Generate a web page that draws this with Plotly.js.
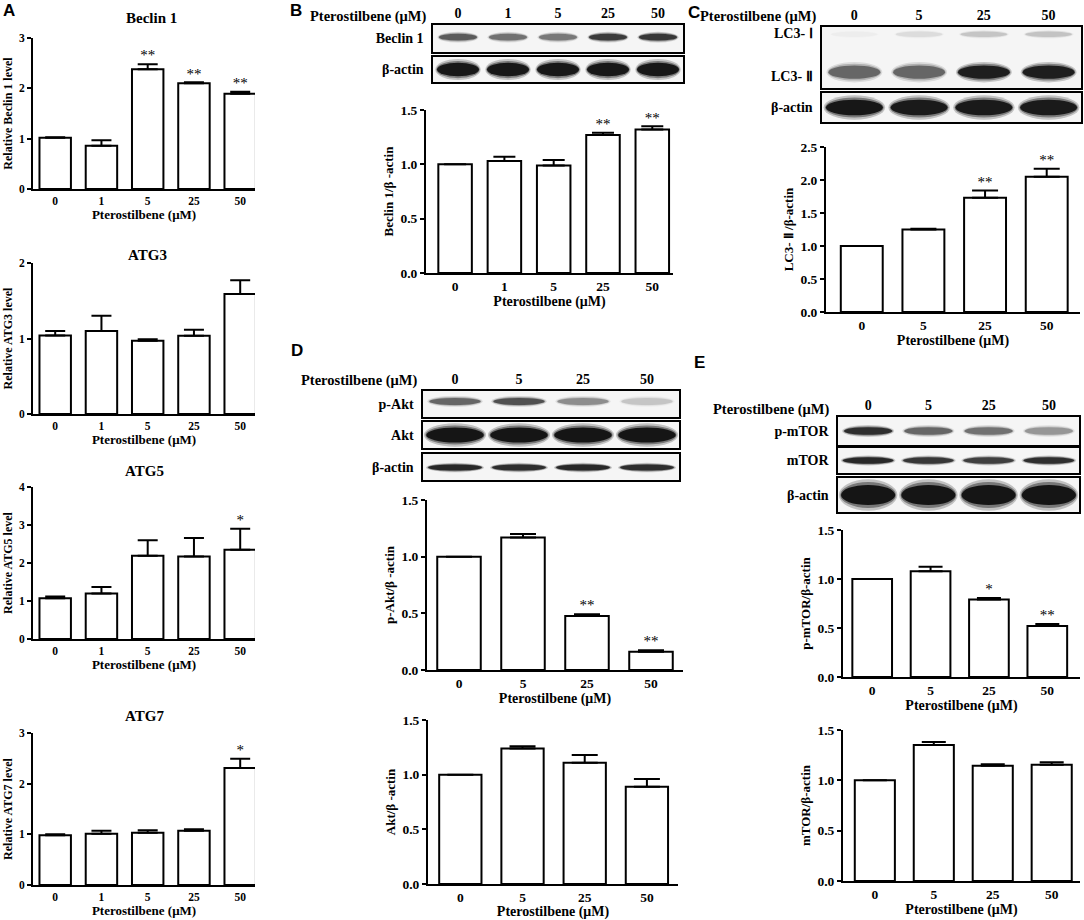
<!DOCTYPE html>
<html>
<head>
<meta charset="utf-8">
<script src="https://cdn.plot.ly/plotly-3.0.1.min.js"></script>
<style>
  body { margin: 0; background: #fff; }
  #chart { width: 1084px; height: 920px; }
</style>
</head>
<body>
<div id="chart"></div>
<script>
// dose labels
const doses5 = ["0", "1", "5", "25", "50"];
const doses4 = ["0", "5", "25", "50"];

// panel A, qPCR
const beclinA = [1.02, 0.86, 2.38, 2.1, 1.89];
const beclinAErr = [0.01, 0.11, 0.1, 0.02, 0.04];
const beclinAStars = ["", "", "**", "**", "**"];

const atg3 = [1.04, 1.1, 0.97, 1.035, 1.59];
const atg3Err = [0.06, 0.2, 0.02, 0.08, 0.18];

const atg5 = [1.07, 1.2, 2.19, 2.17, 2.35];
const atg5Err = [0.05, 0.17, 0.41, 0.49, 0.55];
const atg5Stars = ["", "", "", "", "*"];

const atg7 = [0.98, 1.01, 1.03, 1.07, 2.31];
const atg7Err = [0.02, 0.06, 0.05, 0.03, 0.18];
const atg7Stars = ["", "", "", "", "*"];

// panel B
const beclinB = [1.0, 1.03, 0.99, 1.27, 1.32];
const beclinBErr = [0, 0.04, 0.05, 0.02, 0.03];
const beclinBStars = ["", "", "", "**", "**"];

// panel C
const lc3 = [1.0, 1.25, 1.73, 2.05];
const lc3Err = [0, 0.01, 0.11, 0.12];
const lc3Stars = ["", "", "**", "**"];

// panel D
const pAkt = [1.0, 1.17, 0.477, 0.16];
const pAktErr = [0, 0.03, 0.015, 0.015];
const pAktStars = ["", "", "**", "**"];
const akt = [1.0, 1.24, 1.11, 0.89];
const aktErr = [0, 0.02, 0.07, 0.07];

// panel E
const pMtor = [1.0, 1.08, 0.79, 0.52];
const pMtorErr = [0, 0.045, 0.015, 0.02];
const pMtorStars = ["", "", "*", "**"];
const mtor = [1.0, 1.35, 1.145, 1.155];
const mtorErr = [0, 0.03, 0.015, 0.025];

// blot band darkness per lane
const blotBeclin = [0.55, 0.45, 0.42, 0.72, 0.75];
const blotActinB = [0.97, 0.97, 0.97, 0.97, 0.97];
const blotLc3I = [0.02, 0.07, 0.14, 0.15];
const blotLc3II = [0.5, 0.5, 0.92, 0.92];
const blotActinC = [0.98, 0.96, 0.96, 0.96];
const blotPAkt = [0.5, 0.6, 0.33, 0.14];
const blotAkt = [1, 1, 1, 1];
const blotActinD = [0.85, 0.8, 0.85, 0.8];
const blotPMtor = [0.8, 0.5, 0.45, 0.3];
const blotMtor = [0.85, 0.75, 0.7, 0.8];
const blotActinE = [1, 1, 1, 1];

const SERIF = "Liberation Serif, Times New Roman, serif";
const SANS = "Liberation Sans, Arial, sans-serif";
const W = 1084, H = 920;
const px = (v) => v / W;
const py = (v) => 1 - v / H;

const data = [];
const layout = {
  width: W,
  height: H,
  margin: { l: 0, r: 0, t: 0, b: 0 },
  showlegend: false,
  paper_bgcolor: "white",
  plot_bgcolor: "rgba(0,0,0,0)",
  colorway: ["#000000"],
  font: { family: SERIF, color: "black" },
  annotations: [],
  shapes: [],
};

let n = 0;
function axes(box) {
  n++;
  const s = n === 1 ? "" : String(n);
  layout["xaxis" + s] = { domain: [px(box[0]), px(box[1])], anchor: "y" + s, fixedrange: true };
  layout["yaxis" + s] = { domain: [py(box[3]), py(box[2])], anchor: "x" + s, fixedrange: true };
  return { x: "x" + s, y: "y" + s, xa: layout["xaxis" + s], ya: layout["yaxis" + s] };
}

function note(text, x, y, size, opts) {
  layout.annotations.push(Object.assign({
    text: text, x: px(x), y: py(y), xref: "paper", yref: "paper",
    showarrow: false, xanchor: "center", yanchor: "middle", borderpad: 0,
    font: { family: SERIF, size: size, weight: "bold", color: "black" },
  }, opts || {}));
}

// fs = [tick size, x title size, y title size]
function barPlot(box, cats, vals, errs, stars, yMax, dtick, xRange, yTitle, fs, capW, fmt) {
  const a = axes(box);
  Object.assign(a.xa, {
    type: "category", range: xRange, showline: true, linewidth: 2, linecolor: "black",
    ticks: "", showgrid: false, zeroline: false,
    tickfont: { size: fs[0], weight: "bold" },
    title: { text: "Pterostilbene (μM)", font: { size: fs[1], weight: "bold" }, standoff: 1 },
  });
  Object.assign(a.ya, {
    range: [0, yMax], dtick: dtick, tickformat: fmt, showline: true, linewidth: 2, linecolor: "black",
    ticks: "outside", ticklen: 4, tickwidth: 2, tickcolor: "black", showgrid: false, zeroline: false,
    tickfont: { size: fs[0], weight: "bold" },
    title: { text: yTitle, font: { size: fs[2], weight: "bold" }, standoff: 4 },
  });
  data.push({
    type: "bar", x: cats, y: vals, xaxis: a.x, yaxis: a.y, width: 0.68,
    marker: { color: "white", line: { color: "black", width: 2 } },
    error_y: {
      type: "data", array: errs, arrayminus: errs.map(() => 0), symmetric: false,
      color: "black", thickness: 2, width: capW,
    },
  });
  if (stars) {
    data.push({
      type: "scatter", mode: "text", x: cats, y: vals.map((v, i) => v + errs[i]),
      text: stars, textposition: "top center", cliponaxis: false,
      marker: { color: "black" },
      textfont: { family: SERIF, size: 15, color: "black" },
      xaxis: a.x, yaxis: a.y, hoverinfo: "skip",
    });
  }
}

function blotStrip(box, lanes, rowLabels, rowPos, bands, header) {
  const a = axes(box);
  const idx = lanes.map((_, i) => i);
  Object.assign(a.xa, {
    range: [-0.5, lanes.length - 0.5], showline: true, mirror: true, linewidth: 1.6, linecolor: "black",
    zeroline: false, showgrid: false, ticks: "", side: "top",
    showticklabels: !!header, tickvals: idx, ticktext: lanes,
    tickfont: { size: 14, weight: "bold" },
  });
  Object.assign(a.ya, {
    range: [0, 1], showline: true, mirror: true, linewidth: 1.6, linecolor: "black",
    zeroline: false, showgrid: false, ticks: "", tickvals: rowPos, ticktext: rowLabels,
    tickfont: { size: 14, weight: "bold" }, ticklabelstandoff: 5,
  });
  layout.shapes.push({
    type: "rect", xref: a.x + " domain", yref: a.y + " domain", x0: 0, x1: 1, y0: 0, y1: 1,
    fillcolor: "#f5f5f5", line: { width: 0 }, layer: "below",
  });
  // soft band: three stacked ellipses
  const layers = [[1.08, 1.4, 0.22], [1.03, 1.15, 0.4], [1.0, 0.9, 0.9]];
  bands.forEach((b) => {
    b.levels.forEach((lv, i) => {
      layers.forEach((L) => {
        layout.shapes.push({
          type: "circle", xref: a.x, yref: a.y,
          x0: i - b.hw * L[0], x1: i + b.hw * L[0],
          y0: b.yc - b.hh * L[1], y1: b.yc + b.hh * L[1],
          fillcolor: "rgba(10,10,10," + (lv * L[2]).toFixed(3) + ")", line: { width: 0 },
        });
      });
    });
  });
  data.push({ type: "scatter", x: [], y: [], xaxis: a.x, yaxis: a.y, hoverinfo: "skip" });
}

// ---- panel A ----
const fsA = [11.5, 13, 12];
barPlot([33, 255, 38, 189], doses5, beclinA, beclinAErr, beclinAStars, 3, 1, [-0.48, 4.32], "Relative Beclin 1 level", fsA, 10, "d");
barPlot([33, 255, 263, 414], doses5, atg3, atg3Err, null, 2, 1, [-0.48, 4.32], "Relative ATG3 level", fsA, 10, "d");
barPlot([33, 255, 487, 639], doses5, atg5, atg5Err, atg5Stars, 4, 1, [-0.48, 4.32], "Relative ATG5 level", fsA, 10, "d");
barPlot([33, 255, 733, 885], doses5, atg7, atg7Err, atg7Stars, 3, 1, [-0.48, 4.32], "Relative ATG7 level", fsA, 10, "d");
note("Beclin 1", 151, 18, 15);
note("ATG3", 147, 255, 15);
note("ATG5", 144, 471, 15);
note("ATG7", 144, 716, 15);

const fsB = [13.5, 14, 13];

// ---- panel B ----
blotStrip([433, 683, 25, 52], doses5, ["Beclin 1"], [0.5],
  [{ levels: blotBeclin, yc: 0.55, hh: 0.14, hw: 0.38 }], true);
blotStrip([433, 683, 57, 82], doses5, ["β-actin"], [0.5],
  [{ levels: blotActinB, yc: 0.5, hh: 0.3, hw: 0.42 }], false);
barPlot([426, 673, 110, 273], doses5, beclinB, beclinBErr, beclinBStars, 1.5, 0.5, [-0.59, 4.42], "Beclin 1/β -actin", fsB, 11, ".1f");

// ---- panel C ----
blotStrip([822, 1081, 27, 88], doses4, ["LC3- Ⅰ", "LC3- Ⅱ"], [0.9, 0.2],
  [{ levels: blotLc3I, yc: 0.88, hh: 0.05, hw: 0.36 }, { levels: blotLc3II, yc: 0.26, hh: 0.12, hw: 0.4 }], true);
blotStrip([822, 1081, 93, 122], doses4, ["β-actin"], [0.5],
  [{ levels: blotActinC, yc: 0.5, hh: 0.3, hw: 0.44 }], false);
barPlot([826, 1080, 147, 312], doses4, lc3, lc3Err, lc3Stars, 2.5, 0.5, [-0.58, 3.54], "LC3- Ⅱ /β-actin", fsB, 13, ".1f");

// ---- panel D ----
blotStrip([423, 679, 391, 417], doses4, ["p-Akt"], [0.5],
  [{ levels: blotPAkt, yc: 0.6, hh: 0.15, hw: 0.4 }], true);
blotStrip([423, 679, 422, 448], doses4, ["Akt"], [0.5],
  [{ levels: blotAkt, yc: 0.5, hh: 0.32, hw: 0.45 }], false);
blotStrip([423, 679, 454, 480], doses4, ["β-actin"], [0.5],
  [{ levels: blotActinD, yc: 0.48, hh: 0.13, hw: 0.42 }], false);
barPlot([427, 683, 500, 670], doses4, pAkt, pAktErr, pAktStars, 1.5, 0.5, [-0.5, 3.5], "p-Akt/β -actin", fsB, 13, ".1f");
barPlot([428, 678, 720, 884], doses4, akt, aktErr, null, 1.5, 0.5, [-0.52, 3.5], "Akt/β -actin", fsB, 13, ".1f");

// ---- panel E ----
blotStrip([838, 1079, 417, 445], doses4, ["p-mTOR"], [0.5],
  [{ levels: blotPMtor, yc: 0.5, hh: 0.15, hw: 0.4 }], true);
blotStrip([838, 1079, 448, 473], doses4, ["mTOR"], [0.5],
  [{ levels: blotMtor, yc: 0.5, hh: 0.14, hw: 0.42 }], false);
blotStrip([838, 1079, 478, 512], doses4, ["β-actin"], [0.5],
  [{ levels: blotActinE, yc: 0.5, hh: 0.33, hw: 0.45 }], false);
barPlot([843, 1080, 530, 677], doses4, pMtor, pMtorErr, pMtorStars, 1.5, 0.5, [-0.5, 3.56], "p-mTOR/β-actin", fsB, 12, ".1f");
barPlot([843, 1080, 730, 881], doses4, mtor, mtorErr, null, 1.5, 0.5, [-0.54, 3.48], "mTOR/β-actin", fsB, 12, ".1f");

// blot headers
note("Pterostilbene (μM)", 427, 17, 14.5, { xanchor: "right" });
note("Pterostilbene (μM)", 817, 17, 14.5, { xanchor: "right" });
note("Pterostilbene (μM)", 418, 380, 14.5, { xanchor: "right" });
note("Pterostilbene (μM)", 830, 409, 14.5, { xanchor: "right" });

// panel letters
const sansBold = { font: { family: SANS, size: 17, weight: "bold", color: "black" } };
note("A", 9, 10, 17, sansBold);
note("B", 296, 10, 17, sansBold);
note("C", 694, 12, 17, sansBold);
note("D", 297, 350, 17, sansBold);
note("E", 699, 362, 17, sansBold);

Plotly.newPlot("chart", data, layout, { displayModeBar: false, staticPlot: true });
</script>
</body>
</html>
